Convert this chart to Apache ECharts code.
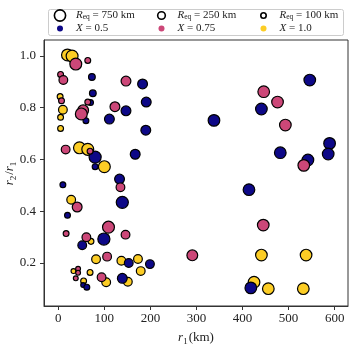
<!DOCTYPE html>
<html>
<head>
<meta charset="UTF-8">
<title>r2/r1 vs r1</title>
<script src="https://cdn.jsdelivr.net/npm/echarts@6/dist/echarts.min.js"></script>
</head>
<body style="margin:0">
<div id="main" style="width:353px;height:345px;"></div>
<script>
// each point: [r1 (km), r2/r1, R_eq (km)]
var pointsX05 = [
  [73, 0.919, 150], [183, 0.892, 450], [75, 0.856, 150], [70, 0.82, 100],
  [191, 0.822, 450], [147, 0.788, 450], [60, 0.75, 100], [111, 0.756, 450],
  [190, 0.713, 450], [80, 0.609, 850], [167, 0.62, 450], [80, 0.572, 100],
  [133, 0.524, 450], [10, 0.502, 100], [139, 0.434, 850], [20, 0.384, 100],
  [99, 0.292, 850], [52, 0.268, 320], [153, 0.199, 320], [199, 0.195, 320],
  [139, 0.14, 450], [54, 0.114, 60], [62, 0.106, 100],
  [546, 0.907, 750], [441, 0.795, 750], [338, 0.751, 750], [482, 0.626, 750],
  [589, 0.662, 750], [586, 0.621, 750], [542, 0.598, 750], [414, 0.483, 750],
  [418, 0.103, 750]
];
var pointsX075 = [
  [38, 0.969, 800], [64, 0.983, 100], [5, 0.929, 100], [11, 0.907, 320],
  [147, 0.903, 450], [7, 0.827, 100], [64, 0.822, 100], [123, 0.804, 450],
  [54, 0.79, 600], [50, 0.776, 800], [16, 0.638, 320], [69, 0.632, 100],
  [135, 0.492, 320], [41, 0.416, 450], [109, 0.338, 800], [146, 0.309, 320],
  [17, 0.313, 100], [61, 0.299, 320], [291, 0.229, 600], [106, 0.224, 320],
  [43, 0.177, 60], [43, 0.162, 60], [38, 0.14, 60], [94, 0.144, 320],
  [446, 0.862, 750], [476, 0.822, 750], [493, 0.733, 750], [533, 0.577, 750],
  [445, 0.346, 750]
];
var pointsX10 = [
  [20, 1.004, 800], [30, 1.0, 800], [4, 0.843, 100], [10, 0.792, 320],
  [5, 0.763, 100], [5, 0.72, 100], [46, 0.645, 800], [64, 0.639, 800],
  [100, 0.572, 800], [28, 0.444, 320], [71, 0.283, 100], [82, 0.214, 320],
  [137, 0.208, 320], [173, 0.215, 320], [179, 0.168, 320], [33, 0.168, 60],
  [69, 0.163, 100], [104, 0.125, 320], [151, 0.127, 320], [55, 0.13, 100],
  [441, 0.23, 750], [538, 0.23, 750], [425, 0.125, 750], [456, 0.1, 750],
  [532, 0.1, 750]
];
var xTicks = [0, 100, 200, 300, 400, 500, 600];
var yTicks = [0.2, 0.4, 0.6, 0.8, 1.0];
var legendSizes = [750, 250, 100];
var legendX = ['0.5', '0.75', '1.0'];
var groupColors = ['#0d0887', '#cc4778', '#fccd25'];

var FONT = 'Liberation Serif';

// marker diameter (px) from R_eq
function diam(r) {
  return 1.76 * Math.pow(r, 0.3);
}

var sub = {
  i: {fontFamily: FONT, fontStyle: 'italic', fontSize: 13, color: '#222', verticalAlign: 'middle', lineHeight: 16},
  s: {fontFamily: FONT, fontSize: 9, color: '#222', verticalAlign: 'bottom', lineHeight: 16, padding: [0, 1, 0, 0]},
  n: {fontFamily: FONT, fontSize: 13, color: '#222', verticalAlign: 'middle', lineHeight: 16}
};

function makeSeries(points, color) {
  return {
    type: 'scatter',
    data: points,
    symbol: 'circle',
    symbolSize: function (v) { return diam(v[2]) - 1.2; },
    itemStyle: {color: color, opacity: 1, borderColor: '#000', borderWidth: 1.2},
    emphasis: {disabled: true},
    animation: false
  };
}

// legend drawn as graphics
var lg = [{
  type: 'rect',
  shape: {x: 48.5, y: 9.5, width: 295, height: 26, r: 2},
  style: {fill: '#fff', stroke: '#ccc', lineWidth: 1}
}];
var colX = [60, 161.5, 263.5];
var legRich = {
  i: {fontFamily: FONT, fontStyle: 'italic', fontSize: 11, fill: '#222', verticalAlign: 'middle', lineHeight: 12},
  s: {fontFamily: FONT, fontSize: 7.5, fill: '#222', verticalAlign: 'bottom', lineHeight: 12},
  n: {fontFamily: FONT, fontSize: 11, fill: '#222', verticalAlign: 'middle', lineHeight: 12}
};
for (var k = 0; k < 3; k++) {
  lg.push({
    type: 'circle',
    shape: {cx: colX[k], cy: 15.5, r: (diam(legendSizes[k]) - 1.6) / 2},
    style: {fill: '#fff', stroke: '#000', lineWidth: 1.6}
  });
  lg.push({
    type: 'circle',
    shape: {cx: colX[k], cy: 28.5, r: 3},
    style: {fill: groupColors[k]}
  });
  lg.push({
    type: 'text',
    x: colX[k] + 16, y: 15.5,
    style: {text: '{i|R}{s|eq}{n| = ' + legendSizes[k] + ' km}', rich: legRich, verticalAlign: 'middle'}
  });
  lg.push({
    type: 'text',
    x: colX[k] + 16, y: 28.5,
    style: {text: '{i|X}{n| = ' + legendX[k] + '}', rich: legRich, verticalAlign: 'middle'}
  });
}

var chart = echarts.init(document.getElementById('main'));
chart.setOption({
  backgroundColor: '#fff',
  animation: false,
  grid: {left: 44, right: 5, top: 40, bottom: 39, outerBoundsMode: 'none', containLabel: false,
    show: true, borderColor: '#333', borderWidth: 1, backgroundColor: 'transparent'},
  xAxis: {
    type: 'value', min: -31, max: 629,
    name: '{i|r}{s|1}{n|(km)}',
    nameLocation: 'middle', nameGap: 24, nameMoveOverlap: false,
    nameTextStyle: {rich: sub},
    axisLine: {show: true, onZero: false, lineStyle: {color: '#333', width: 1}},
    splitLine: {show: false},
    axisTick: {show: true, customValues: xTicks, length: 4, inside: false, lineStyle: {color: '#333'}},
    axisLabel: {customValues: xTicks, fontFamily: FONT, fontSize: 13, color: '#222', margin: 6}
  },
  yAxis: {
    type: 'value', min: 0.033, max: 1.062,
    name: '{i|r}{s|2}{n|/}{i|r}{s|1}',
    nameLocation: 'middle', nameGap: 26, nameRotate: 90, nameMoveOverlap: false,
    nameTextStyle: {rich: sub},
    axisLine: {show: true, onZero: false, lineStyle: {color: '#333', width: 1}},
    splitLine: {show: false},
    axisTick: {show: true, customValues: yTicks, length: 4, inside: false, lineStyle: {color: '#333'}},
    axisLabel: {customValues: yTicks, fontFamily: FONT, fontSize: 13, color: '#222', margin: 8,
      formatter: function (v) { return v.toFixed(1); }}
  },
  series: [
    makeSeries(pointsX10, groupColors[2]),
    makeSeries(pointsX05, groupColors[0]),
    makeSeries(pointsX075, groupColors[1])
  ],
  graphic: lg
});
</script>
</body>
</html>
